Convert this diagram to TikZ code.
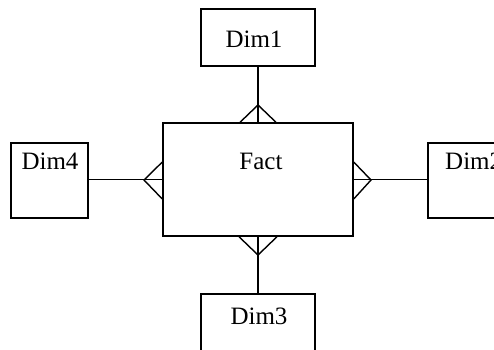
\documentclass[tikz,border=0pt]{standalone}
\usepackage{fontspec}
\setmainfont{Liberation Serif}
\begin{document}
\begin{tikzpicture}[x=1pt,y=-1pt,
  box/.style={draw, line width=1.4pt, inner sep=0pt},
  lbl/.style={font=\fontsize{25}{29}\selectfont, anchor=base, inner sep=0pt},
  conn/.style={line width=1.4pt}]
\useasboundingbox (0,0) rectangle (494,349);
\clip (0,0) rectangle (494,349);
% boxes
\node[box, minimum width=114pt, minimum height=57pt] (dim1) at (258,37.5) {};
\node[box, minimum width=190pt, minimum height=113pt] (fact) at (258,179.5) {};
\node[box, minimum width=77pt, minimum height=75pt] (dim4) at (49.5,180.5) {};
\node[box, minimum width=100pt, minimum height=75pt] (dim2) at (478,180.5) {};
\node[box, minimum width=114pt, minimum height=76pt] (dim3) at (258,332) {};
% labels
\node[lbl] (t1) at (254,47) {Dim1};
\node[lbl] (tf) at (261,169) {Fact};
\node[lbl] (t4) at (50,169) {Dim4};
\node[lbl, anchor=base west] (t2) at (445,169) {Dim2};
\node[lbl] (t3) at (259,324) {Dim3};
% crow's foot coordinates
\coordinate (a1) at (258,105);
\coordinate (a3) at (258,255);
\coordinate (a4) at (144,180);
\coordinate (a2) at (371,180);
% connectors
\draw[conn] (dim1.south) -- (fact.north);
\draw[conn] (fact.north -| 240,0) -- (a1) -- (fact.north -| 276,0);
\draw[conn] (fact.south) -- (dim3.north);
\draw[conn] (fact.south -| 239,0) -- (a3) -- (fact.south -| 277,0);
\draw[conn] (dim4.east |- fact.west) -- (fact.west);
\draw[conn] (fact.west |- 0,162) -- (a4) -- (fact.west |- 0,199);
\draw[conn] (fact.east) -- (dim2.west |- fact.east);
\draw[conn] (fact.east |- 0,162) -- (a2) -- (fact.east |- 0,199);
\end{tikzpicture}
\end{document}
